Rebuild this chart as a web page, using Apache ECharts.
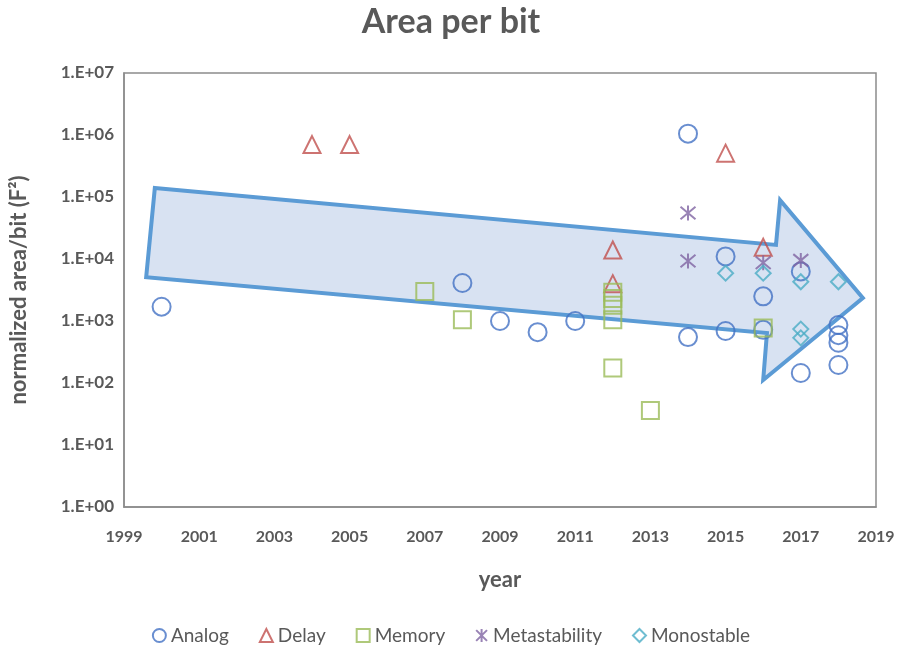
<!DOCTYPE html>
<html>
<head>
<meta charset="utf-8">
<script src="https://cdn.jsdelivr.net/npm/echarts@6/dist/echarts.min.js"></script>
<style>html,body{margin:0;padding:0;background:#fff}#c{width:902px;height:650px}</style>
</head>
<body>
<div id="c"></div>
<script>
// Data (year, normalized area/bit)
const analogYears = [2000, 2008, 2009, 2010, 2011, 2014, 2014, 2015, 2015, 2016, 2016, 2017, 2017, 2018, 2018, 2018, 2018];
const analogValues = [1700, 4100, 1000, 660, 1000, 1050000, 550, 11000, 690, 2500, 720, 6300, 145, 860, 590, 445, 195];
const delayYears = [2004, 2005, 2012, 2012, 2015, 2016];
const delayValues = [700000, 700000, 14000, 4000, 510000, 15500];
const memoryYears = [2007, 2008, 2012, 2012, 2012, 2012, 2012, 2013, 2016];
const memoryValues = [3000, 1050, 2900, 2300, 1800, 1050, 175, 36, 770];
const metaYears = [2014, 2014, 2016, 2017];
const metaValues = [55000, 9300, 8700, 9500];
const monoYears = [2015, 2016, 2017, 2017, 2017, 2018];
const monoValues = [5900, 5900, 4300, 740, 535, 4300];
// Trend arrow outline (annotation, in data coordinates)
const arrowYears = [1999.82, 2016.34, 2016.45, 2018.65, 2016.0, 2016.1, 1999.59];
const arrowValues = [140000, 16900, 89000, 2350, 112, 640, 5100];
const xTicks = {min: 1999, max: 2019, step: 2};

const zip = (xs, ys) => xs.map((x, i) => [x, ys[i]]);
const txt = '#595959';
const font = 'Lato, "Open Sans", sans-serif';
const asterisk = 'path://M0,0L10,10M10,0L0,10M5,-1L5,11';

function sc(name, sym, color, xs, ys, size) {
  return {
    name: name, type: 'scatter', symbol: sym, symbolSize: size,
    data: zip(xs, ys), z: 3,
    itemStyle: {color: 'rgba(255,255,255,0)', borderColor: color, borderWidth: 2},
    emphasis: {disabled: true}
  };
}

const chart = echarts.init(document.getElementById('c'));
chart.setOption({
  animation: false,
  title: {
    text: 'Area per bit', left: 'center', top: 0,
    textStyle: {fontFamily: font, fontSize: 34, fontWeight: 'bold', color: txt}
  },
  grid: {left: 124, right: 26, top: 73, bottom: 143, show: true, borderColor: '#8c8c8c', borderWidth: 1.5},
  xAxis: {
    type: 'value', min: xTicks.min, max: xTicks.max, interval: xTicks.step,
    name: 'year', nameLocation: 'middle', nameGap: 62,
    nameTextStyle: {fontFamily: font, fontSize: 22, fontWeight: 'bold', color: txt},
    axisLine: {show: true, lineStyle: {color: '#8c8c8c', width: 1.5}},
    axisTick: {show: false}, splitLine: {show: false},
    axisLabel: {fontFamily: font, fontSize: 16, fontWeight: 'bold', color: txt, margin: 22, formatter: v => String(v)}
  },
  yAxis: {
    type: 'log', logBase: 10, min: 1, max: 10000000,
    name: 'normalized area/bit (F²)', nameLocation: 'middle', nameGap: 94,
    nameTextStyle: {fontFamily: font, fontSize: 22, fontWeight: 'bold', color: txt},
    axisLine: {show: true, lineStyle: {color: '#8c8c8c', width: 1.5}},
    axisTick: {show: false}, splitLine: {show: false}, minorTick: {show: false},
    axisLabel: {
      fontFamily: font, fontSize: 17, fontWeight: 'bold', color: txt, margin: 10,
      formatter: v => '1.E+' + String(Math.round(Math.log10(v))).padStart(2, '0')
    }
  },
  legend: {
    bottom: 0, left: 'center', itemWidth: 13, itemHeight: 13, itemGap: 30,
    data: ['Analog', 'Delay', 'Memory', 'Metastability', 'Monostable'],
    textStyle: {fontFamily: font, fontSize: 19, color: txt}
  },
  series: [
    {
      type: 'custom', name: 'arrow', z: 1, silent: true,
      data: [[0, 0]],
      renderItem: function (params, api) {
        const pts = arrowYears.map((x, i) => api.coord([x, arrowValues[i]]));
        return {
          type: 'polygon',
          shape: {points: pts},
          style: {fill: 'rgba(200,214,236,0.7)', stroke: '#5b9bd5', lineWidth: 4, lineJoin: 'miter'}
        };
      }
    },
    sc('Analog', 'circle', '#4472c4', analogYears, analogValues, 18),
    sc('Delay', 'triangle', '#c0504d', delayYears, delayValues, 17),
    sc('Memory', 'rect', '#9bbb59', memoryYears, memoryValues, 17),
    sc('Metastability', asterisk, '#8064a2', metaYears, metaValues, 15),
    sc('Monostable', 'diamond', '#4bacc6', monoYears, monoValues, 15)
  ]
});
</script>
</body>
</html>
